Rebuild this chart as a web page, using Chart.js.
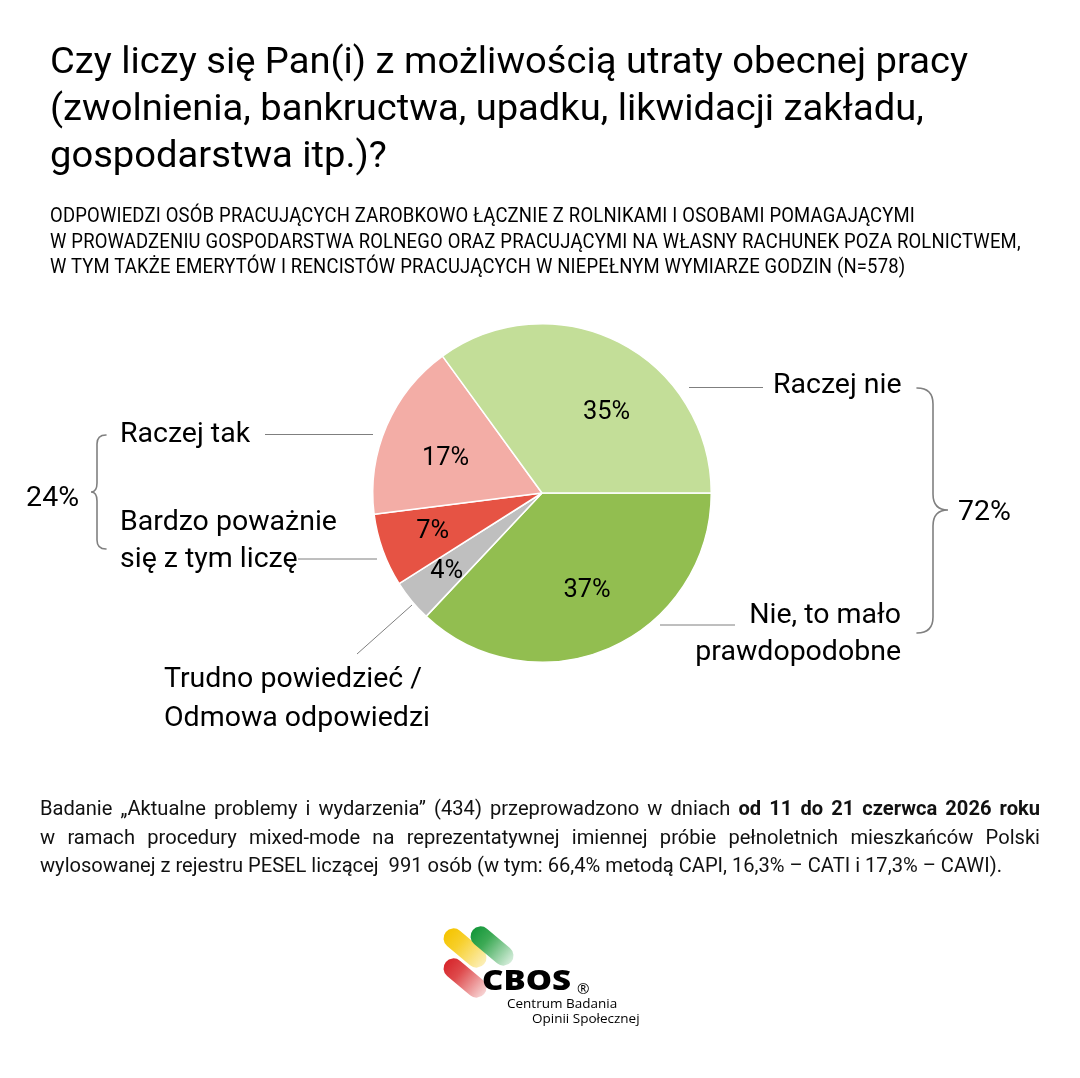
<!DOCTYPE html>
<html lang="pl">
<head>
<meta charset="utf-8">
<script src="https://cdn.jsdelivr.net/npm/chart.js@4.4.1/dist/chart.umd.min.js"></script>
<style>
html,body{margin:0;padding:0;background:#fff;}
body{width:1080px;height:1078px;position:relative;overflow:hidden;font-family:Roboto,"Noto Sans",sans-serif;color:#000;}
#c{position:absolute;left:0;top:0;width:1080px;height:1078px;}
.ln{position:absolute;white-space:nowrap;transform-origin:0 0;}
.title{font-size:37.5px;line-height:37.5px;left:50px;}
.sub{font-size:20px;line-height:20px;left:50px;letter-spacing:0.2px;}
.foot{font-size:20px;line-height:20px;left:40px;color:#111;}
.just{text-align:justify;text-align-last:justify;}
.pill{position:absolute;width:50px;height:20px;border-radius:10px;transform:rotate(40deg);}
</style>
</head>
<body>
<canvas id="c" width="1080" height="1078"></canvas>

<div class="ln title" id="t1" style="top:42.4px">Czy liczy się Pan(i) z możliwością utraty obecnej pracy</div>
<div class="ln title" id="t2" style="top:89.4px">(zwolnienia, bankructwa, upadku, likwidacji zakładu,</div>
<div class="ln title" id="t3" style="top:136.4px">gospodarstwa itp.)?</div>

<div class="ln sub" id="s1" style="top:205.2px">ODPOWIEDZI OSÓB PRACUJĄCYCH ZAROBKOWO ŁĄCZNIE Z ROLNIKAMI I OSOBAMI POMAGAJĄCYMI</div>
<div class="ln sub" id="s2" style="top:230.7px">W PROWADZENIU GOSPODARSTWA ROLNEGO ORAZ PRACUJĄCYMI NA WŁASNY RACHUNEK POZA ROLNICTWEM,</div>
<div class="ln sub" id="s3" style="top:256.2px">W TYM TAKŻE EMERYTÓW I RENCISTÓW PRACUJĄCYCH W NIEPEŁNYM WYMIARZE GODZIN (N=578)</div>

<div class="ln foot just" id="f1" style="top:798.2px">Badanie „Aktualne problemy i wydarzenia” (434) przeprowadzono w dniach <b>od 11 do 21 czerwca 2026 roku</b></div>
<div class="ln foot just" id="f2" style="top:826.7px">w ramach procedury mixed-mode na reprezentatywnej imiennej próbie pełnoletnich mieszkańców Polski</div>
<div class="ln foot" id="f3" style="top:855.2px">wylosowanej z rejestru PESEL liczącej&nbsp; 991 osób (w tym: 66,4% metodą CAPI, 16,3% – CATI i 17,3% – CAWI).</div>

<!-- logo -->
<div class="pill" style="left:440px;top:938px;background:linear-gradient(to right,#F5C400 0%,#F7CF2A 35%,#FCEFB8 100%);"></div>
<div class="pill" style="left:467px;top:936px;background:linear-gradient(to right,#14973A 0%,#3DAA55 35%,#D5EDDB 100%);"></div>
<div class="pill" style="left:440px;top:968px;background:linear-gradient(to right,#D7262B 0%,#DE4A4C 35%,#F7D3D3 100%);"></div>
<div class="ln" id="cbos" style="left:482px;top:962px;font-family:'Open Sans',sans-serif;font-weight:800;font-size:28px;line-height:34px;color:#000;">CBOS</div>
<div class="ln" style="left:577px;top:979px;font-family:'Open Sans',sans-serif;font-size:15px;line-height:18px;color:#000;">®</div>
<div class="ln" style="left:507px;top:994px;font-family:'Open Sans',sans-serif;font-size:13.5px;line-height:18px;color:#000;">Centrum Badania</div>
<div class="ln" style="left:532px;top:1009px;font-family:'Open Sans',sans-serif;font-size:13.5px;line-height:18px;color:#000;">Opinii Społecznej</div>

<script>
// ---------- DATA ----------
const categories = ['Nie, to mało prawdopodobne', 'Trudno powiedzieć / Odmowa odpowiedzi', 'Bardzo poważnie się z tym liczę', 'Raczej tak', 'Raczej nie'];
const values = [37, 4, 7, 17, 35];
const sliceColors = ['#92BE50', '#BFBFBF', '#E65344', '#F3ADA6', '#C3DE98'];
const yesGroup = [2, 3];   // indices summed for left bracket
const noGroup = [0, 4];    // indices summed for right bracket

// ---------- condensing (Roboto -> Roboto Condensed look) ----------
function natW(el){ el.style.transform='none'; return el.getBoundingClientRect().width; }
const sT = 918 / natW(document.getElementById('t1'));
['t1','t2','t3'].forEach(id=>document.getElementById(id).style.transform='scaleX('+sT+')');
const sS = 865 / natW(document.getElementById('s1'));
['s1','s2','s3'].forEach(id=>document.getElementById(id).style.transform='scaleX('+sS+')');
const sF = 962 / natW(document.getElementById('f3'));
['f1','f2'].forEach(id=>{const e=document.getElementById(id); e.style.width=(1000/sF)+'px'; e.style.transform='scaleX('+sF+')';});
document.getElementById('f3').style.transform='scaleX('+sF+')';
const cb=document.getElementById('cbos'); cb.style.transform='scaleX('+(89/natW(cb))+')';

// ---------- label layout ----------
const outer = [
  {lines:['Nie, to mało','prawdopodobne'], x:901, ys:[623,660], align:'right', lead:[[660,625],[735,625]]},
  {lines:['Trudno powiedzieć /','Odmowa odpowiedzi'], x:164, ys:[687,726], align:'left', lead:[[412,605],[357,654]]},
  {lines:['Bardzo poważnie','się z tym liczę'], x:120, ys:[530,567], align:'left', lead:[[298,559],[377,559]]},
  {lines:['Raczej tak'], x:120, ys:[442], align:'left', lead:[[265,434.5],[373,434.5]]},
  {lines:['Raczej nie'], x:773, ys:[393], align:'left', lead:[[689,387.5],[763,387.5]]}
];
const pctRadius = [0.62, 0.72, 0.68, 0.61, 0.62];
const pctAngleOffset = [-2, 1, 1.5, -2.5, 11];

function ctext(ctx, txt, x, y, align, font, s){
  ctx.save(); ctx.font = font; ctx.translate(x, y); ctx.scale(s, 1);
  ctx.textAlign = align; ctx.textBaseline = 'alphabetic'; ctx.fillStyle = '#000';
  ctx.fillText(txt, 0, 0); ctx.restore();
}
function brace(ctx, xOpen, xLine, xTip, top, bottom, mid){
  const d = xLine - xOpen; // sign indicates direction
  const r = Math.abs(d);
  const sy = 1;
  ctx.beginPath();
  ctx.moveTo(xOpen, top);
  ctx.quadraticCurveTo(xLine, top, xLine, top + r);
  ctx.lineTo(xLine, mid - r);
  ctx.quadraticCurveTo(xLine, mid, xTip, mid);
  ctx.quadraticCurveTo(xLine, mid, xLine, mid + r);
  ctx.lineTo(xLine, bottom - r);
  ctx.quadraticCurveTo(xLine, bottom, xOpen, bottom);
  ctx.stroke();
}

const labelPlugin = {
  id: 'labels',
  afterDatasetsDraw(chart){
    const ctx = chart.ctx;
    const meta = chart.getDatasetMeta(0);
    // percentages inside slices
    meta.data.forEach((arc, i) => {
      const p = arc.getProps(['x','y','startAngle','endAngle','outerRadius'], true);
      const a = (p.startAngle + p.endAngle) / 2 + pctAngleOffset[i] * Math.PI / 180;
      const cx = p.x + Math.cos(a) * p.outerRadius * pctRadius[i];
      const cy = p.y + Math.sin(a) * p.outerRadius * pctRadius[i];
      ctx.save(); ctx.font = '25px Roboto';
      const w = ctx.measureText(values[i] + '%').width * sT;
      ctx.restore();
      ctext(ctx, values[i] + '%', cx - w / 2, cy + 25 * 0.355, 'left', '25px Roboto', sT);
    });
    // leader lines and outer labels
    ctx.save();
    ctx.strokeStyle = '#7F7F7F'; ctx.lineWidth = 1;
    outer.forEach(o => {
      ctx.beginPath(); ctx.moveTo(o.lead[0][0], o.lead[0][1]); ctx.lineTo(o.lead[1][0], o.lead[1][1]); ctx.stroke();
    });
    ctx.restore();
    outer.forEach(o => o.lines.forEach((t, k) => ctext(ctx, t, o.x, o.ys[k], o.align, '28px Roboto', sT)));
    // brackets with group sums
    ctx.save();
    ctx.strokeStyle = '#808080'; ctx.lineWidth = 1.6; ctx.lineCap = 'round';
    brace(ctx, 106, 97, 91, 435, 549, 492);
    brace(ctx, 917, 933, 948, 388, 633, 510);
    ctx.restore();
    const yes = yesGroup.reduce((s, i) => s + values[i], 0);
    const no = noGroup.reduce((s, i) => s + values[i], 0);
    ctext(ctx, yes + '%', 79, 506, 'right', '28px Roboto', sT);
    ctext(ctx, no + '%', 958, 520, 'left', '28px Roboto', sT);
  }
};

new Chart(document.getElementById('c'), {
  type: 'pie',
  data: {
    labels: categories,
    datasets: [{
      data: values,
      backgroundColor: sliceColors,
      borderColor: '#FFFFFF',
      borderWidth: 1.5
    }]
  },
  options: {
    responsive: false,
    animation: false,
    rotation: 90,
    layout: { padding: { left: 372, right: 368, top: 323, bottom: 415 } },
    plugins: { legend: { display: false }, tooltip: { enabled: false } }
  },
  plugins: [labelPlugin]
});
</script>
</body>
</html>
